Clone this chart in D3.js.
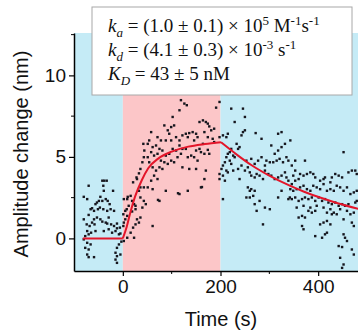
<!DOCTYPE html>
<html>
<head>
<meta charset="utf-8">
<script src="https://cdn.jsdelivr.net/npm/d3@7"></script>
<style>
  body { margin: 0; background: #fff; }
  svg { display: block; }
</style>
</head>
<body>
<div id="chart"></div>
<script>
// phases of the sensor run (s)
const phaseEdges = [-100, 0, 200, 500];
const phaseNames = ["baseline", "association", "dissociation"];

// tick values
const xTicks = [0, 200, 400];
const xMinorTicks = [100, 300];
const yTicks = [0, 5, 10];
const yMinorTicks = [2.5, 7.5, 12.5];

// measured points [time (s), amplitude (nm)]
const baselinePts = [
  [-70,3.23],[-80,2.55],[-73,2.41],[-42,3.54],[-38,3.54],[-33,3.54],[-40,3.23],[-39,2.92],[-20,2.92],
  [-46,2.55],[-49,2.30],[-53,2.20],[-56,2.10],[-63,1.85],[-66,1.79],[-59,1.69],[-42,2.30],[-35,2.41],
  [-31,2.30],[-27,2.10],[-47,1.89],[-51,1.79],[-40,1.79],[-32,1.69],[-25,1.79],[-18,1.69],[-80,1.17],
  [-70,1.44],[-59,1.17],[-53,1.28],[-46,1.17],[-63,0.97],[-74,0.86],[-68,0.76],[-58,0.86],[-42,1.03],
  [-32,0.91],[-24,0.86],[-18,0.76],[-12,0.91],[-73,0.45],[-65,0.35],[-56,0.45],[-77,0.14],[-70,0.25],
  [-39,0.45],[-29,0.56],[-22,0.35],[-15,0.45],[-8,0.25],[-12,0.62],[-73,-0.27],[-66,-0.37],[-77,-0.58],
  [-70,-0.68],[-73,-0.99],[-8,-0.37],[-12,-0.58],[-15,-0.88],[-12,-1.09],[-15,-1.30],[-12,-1.50],
  [-70,-1.15],[-59,-1.15],[-5,-0.99],[-6,0.66],[-80,-0.06],[-35,0.97],[-29,1.28],[-5,0.3],[-3,-0.2]
];
const assocPts = [
  [1,0.76],[2,0.97],[5,1.17],[1,1.48],[2,2.41],[9,2.41],[10,2.55],[16,2.61],[19,2.30],[23,2.10],
  [12,2.0],[8,1.79],[5,1.69],[9,1.38],[19,1.65],[26,1.79],[21,3.44],[28,3.74],[33,3.99],[36,4.26],
  [40,4.67],[43,4.98],[44,5.39],[42,5.80],[29,3.64],[33,2.92],[36,2.51],[43,2.30],[47,2.10],[40,1.89],
  [29,1.17],[26,0.86],[21,0.66],[16,0.35],[23,0.04],[33,0.97],[36,1.28],[9,0.04],[2,-0.16],[26,2.0],
  [36,3.13],[43,3.13],[119,8.48],[126,8.27],[131,8.17],[191,8.02],[116,7.86],[102,7.45],[85,6.93],
  [99,6.83],[105,6.93],[92,6.63],[95,6.42],[58,6.52],[71,6.21],[78,6.01],[88,6.01],[99,6.01],[109,6.21],
  [116,6.01],[122,6.32],[129,6.42],[133,6.21],[136,6.46],[143,6.52],[150,6.42],[153,6.21],[146,6.01],
  [157,7.14],[164,7.24],[170,7.14],[174,7.04],[177,6.87],[181,6.63],[187,6.73],[167,6.52],[174,6.21],
  [184,6.11],[187,5.91],[164,5.80],[157,5.49],[160,5.29],[167,5.19],[174,5.43],[177,5.19],[150,5.39],
  [146,4.98],[153,4.77],[140,5.08],[133,4.98],[129,5.49],[122,5.49],[116,5.70],[109,5.39],[102,5.49],
  [95,5.19],[88,5.08],[81,5.39],[75,5.49],[68,5.70],[61,5.60],[54,6.01],[51,5.80],[58,5.29],[64,5.08],
  [71,5.19],[78,4.77],[85,4.67],[92,4.57],[99,4.77],[105,4.67],[112,4.98],[119,5.19],[75,4.36],
  [81,4.26],[68,4.16],[61,4.36],[54,4.67],[51,4.98],[64,3.85],[71,3.64],[58,3.54],[51,3.13],[61,3.02],
  [88,2.92],[116,2.72],[133,2.92],[160,3.13],[170,4.16],[167,3.64],[75,2.30],[61,0.76],[122,4.36],
  [136,4.26],[150,4.26],[113,2.77],[162,3.15],[72,2.36],[198,8.37],[198,6.21],[198,3.95],[198,3.64]
];
const dissocPts = [
  [222,7.96],[246,7.96],[250,7.45],[229,7.14],[250,6.63],[246,6.52],[243,6.32],[215,6.42],[212,6.21],
  [205,6.32],[272,6.46],[284,6.11],[318,6.42],[325,6.52],[304,5.70],[311,5.19],[318,5.39],[325,5.60],
  [332,5.80],[335,4.98],[339,4.77],[233,5.80],[236,5.49],[239,5.60],[222,5.49],[219,5.29],[215,5.19],
  [226,5.08],[229,4.98],[212,4.98],[219,4.77],[222,4.57],[209,4.67],[205,4.47],[202,4.26],[205,3.85],
  [212,4.16],[215,4.05],[226,4.16],[236,4.26],[243,4.47],[250,4.16],[256,4.36],[260,4.05],[263,3.85],
  [270,3.74],[274,3.95],[280,3.85],[287,3.64],[291,4.16],[298,3.95],[301,4.67],[308,4.67],[315,4.77],
  [321,4.88],[328,4.67],[332,4.05],[335,3.74],[339,3.54],[325,3.85],[318,3.74],[311,3.64],[304,3.85],
  [253,4.77],[263,4.88],[270,4.57],[277,4.77],[284,4.98],[291,4.47],[294,4.77],[239,3.64],[209,3.54],
  [256,3.13],[260,2.92],[263,3.02],[270,2.92],[253,2.51],[260,2.51],[267,2.61],[270,2.10],[280,2.30],
  [274,1.69],[291,1.89],[301,1.79],[287,0.86],[318,2.51],[339,2.41],[342,2.51],[205,2.41],[325,2.92],
  [343,6.01],[452,5.29],[353,4.77],[373,4.77],[346,4.47],[353,4.16],[349,3.85],[363,3.95],[370,3.85],
  [377,3.95],[384,4.05],[390,3.95],[394,3.74],[404,3.54],[411,3.64],[414,3.74],[425,3.44],[428,3.74],
  [435,3.95],[442,3.85],[449,3.74],[462,4.05],[469,4.16],[476,4.16],[479,3.95],[360,3.64],[353,3.54],
  [346,3.33],[343,3.02],[349,2.92],[356,3.02],[363,3.13],[370,3.23],[377,3.02],[384,2.92],[390,3.23],
  [397,3.13],[404,3.02],[411,3.33],[418,2.92],[425,3.02],[432,2.92],[438,3.23],[445,3.13],[452,2.92],
  [459,3.13],[466,2.72],[473,2.82],[479,2.92],[346,2.41],[353,2.51],[360,2.30],[367,2.41],[373,2.51],
  [380,2.41],[387,2.51],[394,2.30],[401,2.51],[408,2.30],[414,2.41],[421,2.20],[428,2.10],[435,2.20],
  [442,2.00],[449,2.10],[455,2.00],[462,2.10],[476,2.20],[479,2.30],[356,1.89],[370,2.00],[384,1.89],
  [397,2.00],[411,1.89],[425,1.79],[432,1.58],[438,1.48],[445,1.79],[459,1.69],[466,1.48],[473,1.58],
  [360,1.28],[367,1.38],[373,1.28],[380,1.69],[387,1.58],[394,1.69],[418,1.58],[428,1.48],[404,0.86],
  [411,0.97],[418,1.07],[425,0.86],[452,1.17],[469,0.97],[473,0.76],[367,0.76],[370,0.56],[394,0.14],
  [408,0.04],[414,0.25],[418,0.35],[452,0.25],[455,0.04],[459,-0.16],[442,-0.47],[449,-0.53],
  [469,-0.68],[473,-0.99],[445,-1.19],[452,-1.60],[449,-1.81]
];

// fitted curve
const fitTime = [-82, 0, 8, 15, 25, 39, 52, 73, 100, 134, 168, 201, 236, 263, 298, 343, 370, 410, 440, 482];
const fitAmp  = [0, 0, 0.72, 1.54, 2.56, 3.58, 4.30, 4.91, 5.32, 5.63, 5.79, 5.90, 5.08, 4.50, 3.88, 3.22, 2.88, 2.45, 2.16, 1.82];

// fit result lines
const fitLines = [
  [{t: "k", i: true}, {t: "a", i: true, sub: true}, {t: " = (1.0 ± 0.1) × 10"}, {t: "5", sup: true},
   {t: " M"}, {t: "-1", sup: true}, {t: "s"}, {t: "-1", sup: true}],
  [{t: "k", i: true}, {t: "d", i: true, sub: true}, {t: " = (4.1 ± 0.3) × 10"}, {t: "-3", sup: true},
   {t: " s"}, {t: "-1", sup: true}],
  [{t: "K", i: true}, {t: "D", i: true, sub: true}, {t: " = 43 ± 5 nM"}]
];

const width = 358, height = 331;
const bgColors = ["#c5ebf6", "#fcc6c8", "#c5ebf6"];
const sans = "Arial, 'Liberation Sans', sans-serif";

const svg = d3.select("#chart").append("svg")
  .attr("width", width).attr("height", height);

const x = d3.scaleLinear().domain([-100, 500]).range([74, 367]);
const y = d3.scaleLinear().domain([-2, 12.6]).range([271, 33]);

// shaded phases
svg.append("g").selectAll("rect")
  .data(phaseNames)
  .join("rect")
  .attr("x", (d, i) => x(phaseEdges[i]))
  .attr("width", (d, i) => x(phaseEdges[i + 1]) - x(phaseEdges[i]))
  .attr("y", y.range()[1])
  .attr("height", y.range()[0] - y.range()[1])
  .attr("fill", (d, i) => bgColors[i]);

// points
const allPts = baselinePts.concat(assocPts, dissocPts);
svg.append("g").attr("fill", "#16161e")
  .selectAll("rect")
  .data(allPts)
  .join("rect")
  .attr("x", d => x(d[0]) - 1.2)
  .attr("y", d => y(d[1]) - 1.2)
  .attr("width", 2.4)
  .attr("height", 2.4);

// fit line, one piece per phase so the corners stay sharp
const fitPts = fitTime.map((t, i) => [t, fitAmp[i]]);
const line = d3.line().x(d => x(d[0])).y(d => y(d[1])).curve(d3.curveMonotoneX);
const pieces = [
  fitPts.filter(d => d[0] <= 0),
  fitPts.filter(d => d[0] >= 0 && d[0] <= 201),
  fitPts.filter(d => d[0] >= 201)
];
svg.append("g").selectAll("path")
  .data(pieces)
  .join("path")
  .attr("d", line)
  .attr("fill", "none")
  .attr("stroke", "#e3162a")
  .attr("stroke-width", 2);

// axes
const xAxis = svg.append("g").attr("transform", `translate(0,${y.range()[0]})`)
  .call(d3.axisBottom(x).tickValues(xTicks).tickSize(5).tickPadding(4).tickSizeOuter(0));
xAxis.append("g").selectAll("line").data(xMinorTicks).join("line")
  .attr("x1", d => x(d)).attr("x2", d => x(d)).attr("y1", 0).attr("y2", 3)
  .attr("stroke", "#000");

const yAxis = svg.append("g").attr("transform", `translate(${x.range()[0]},0)`)
  .call(d3.axisLeft(y).tickValues(yTicks).tickSize(5).tickPadding(3).tickSizeOuter(0));
yAxis.append("g").selectAll("line").data(yMinorTicks).join("line")
  .attr("y1", d => y(d)).attr("y2", d => y(d)).attr("x1", 0).attr("x2", -3)
  .attr("stroke", "#000");

svg.selectAll(".domain").attr("stroke-width", 1.5);
svg.selectAll(".tick line").attr("stroke-width", 1.2);
svg.selectAll(".tick text").attr("font-family", sans).attr("font-size", 19).attr("fill", "#111");

svg.append("text")
  .attr("x", 221).attr("y", 326)
  .attr("text-anchor", "middle")
  .attr("font-family", sans).attr("font-size", 20).attr("fill", "#111")
  .text("Time (s)");

svg.append("text")
  .attr("transform", "translate(28,154) rotate(-90)")
  .attr("text-anchor", "middle")
  .attr("font-family", sans).attr("font-size", 20).attr("fill", "#111")
  .text("Amplitude change (nm)");

// fit result box
svg.append("rect")
  .attr("x", 92).attr("y", 7).attr("width", 260).attr("height", 88)
  .attr("fill", "#fff").attr("stroke", "#a8a8a8").attr("stroke-width", 1);

const txt = svg.append("g")
  .attr("font-family", "'Liberation Serif', 'Times New Roman', serif")
  .attr("font-size", 19).attr("fill", "#111");

fitLines.forEach((parts, li) => {
  const t = txt.append("text").attr("x", 108).attr("y", 32 + li * 24);
  let shift = 0;
  parts.forEach(p => {
    const want = p.sub ? 5 : p.sup ? -7 : 0;
    t.append("tspan")
      .attr("dy", want - shift)
      .attr("font-style", p.i ? "italic" : null)
      .attr("font-size", p.sub || p.sup ? 13 : null)
      .text(p.t);
    shift = want;
  });
});
</script>
</body>
</html>
